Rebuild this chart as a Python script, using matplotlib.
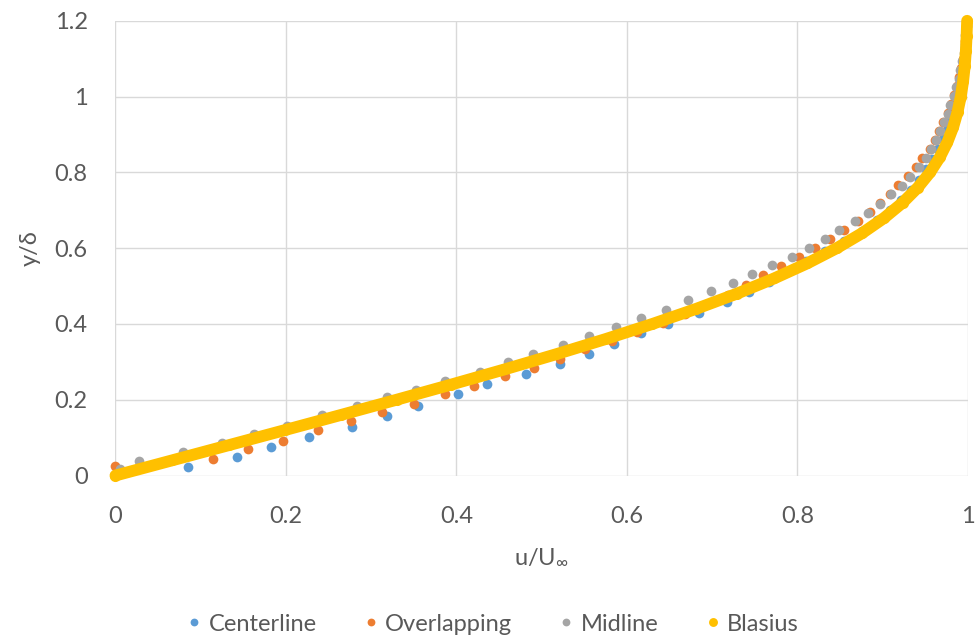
import matplotlib
matplotlib.use("Agg")
import matplotlib.pyplot as plt

plt.rcParams['font.family'] = ['Lato', 'DejaVu Sans']
plt.rcParams['mathtext.fontset'] = 'custom'
plt.rcParams['mathtext.rm'] = 'Lato'
plt.rcParams['mathtext.it'] = 'Lato'

# velocity profiles, u/U_inf against y/delta
center_u = [0.085, 0.142, 0.183, 0.227, 0.277, 0.319, 0.355, 0.402, 0.436, 0.482,
            0.522, 0.555, 0.585, 0.616, 0.648, 0.685, 0.717, 0.743, 0.766, 0.788,
            0.810, 0.832, 0.855, 0.876, 0.893, 0.908, 0.921, 0.933, 0.943, 0.951,
            0.958, 0.965, 0.971, 0.976, 0.980, 0.984, 0.987, 0.990, 0.992, 0.994,
            0.996, 0.997, 0.998, 0.999]
center_y = [0.022, 0.048, 0.075, 0.102, 0.129, 0.157, 0.183, 0.214, 0.241, 0.267,
            0.294, 0.321, 0.347, 0.375, 0.400, 0.428, 0.459, 0.485, 0.511, 0.538,
            0.565, 0.592, 0.619, 0.646, 0.673, 0.700, 0.727, 0.754, 0.781, 0.808,
            0.835, 0.862, 0.889, 0.916, 0.943, 0.970, 0.997, 1.024, 1.051, 1.078,
            1.105, 1.132, 1.159, 1.186]

overlap_u = [0.000, 0.114, 0.156, 0.196, 0.237, 0.276, 0.313, 0.350, 0.387, 0.420,
             0.457, 0.491, 0.521, 0.551, 0.582, 0.612, 0.642, 0.668, 0.694, 0.718,
             0.740, 0.760, 0.781, 0.802, 0.821, 0.838, 0.854, 0.871, 0.885, 0.897,
             0.908, 0.918, 0.930, 0.939, 0.946, 0.956, 0.961, 0.966, 0.971, 0.976,
             0.980, 0.984, 0.987, 0.990, 0.992, 0.994, 0.996, 0.997, 0.998]
overlap_y = [0.025, 0.044, 0.069, 0.092, 0.120, 0.145, 0.167, 0.190, 0.214, 0.237,
             0.262, 0.283, 0.307, 0.333, 0.356, 0.379, 0.403, 0.427, 0.452, 0.477,
             0.502, 0.529, 0.553, 0.577, 0.600, 0.624, 0.648, 0.672, 0.696, 0.720,
             0.744, 0.767, 0.791, 0.815, 0.838, 0.862, 0.885, 0.909, 0.933, 0.957,
             0.980, 1.004, 1.028, 1.052, 1.076, 1.100, 1.124, 1.148, 1.172]

mid_u = [0.005, 0.028, 0.079, 0.125, 0.162, 0.201, 0.242, 0.283, 0.318, 0.352,
         0.387, 0.428, 0.460, 0.490, 0.525, 0.556, 0.587, 0.617, 0.646, 0.671,
         0.699, 0.724, 0.747, 0.770, 0.793, 0.814, 0.832, 0.849, 0.867, 0.883,
         0.897, 0.910, 0.923, 0.932, 0.942, 0.951, 0.957, 0.962, 0.967, 0.972,
         0.976, 0.979, 0.983, 0.986, 0.989, 0.991, 0.993, 0.995, 0.996, 0.997,
         0.998]
mid_y = [0.016, 0.038, 0.063, 0.085, 0.109, 0.131, 0.160, 0.183, 0.206, 0.227,
         0.250, 0.274, 0.299, 0.322, 0.344, 0.368, 0.391, 0.415, 0.438, 0.463,
         0.487, 0.509, 0.532, 0.555, 0.577, 0.601, 0.624, 0.648, 0.672, 0.693,
         0.716, 0.743, 0.765, 0.788, 0.815, 0.839, 0.863, 0.885, 0.910, 0.932,
         0.955, 0.978, 1.001, 1.024, 1.047, 1.070, 1.093, 1.116, 1.139, 1.162,
         1.185]

# Blasius table (f' vs eta/5)
blasius_u = [0.0, 0.06641, 0.13277, 0.19894, 0.26471, 0.32979, 0.39378, 0.45627,
             0.51676, 0.57477, 0.62977, 0.68132, 0.72899, 0.77246, 0.81152, 0.84605,
             0.87609, 0.90177, 0.92333, 0.94112, 0.95552, 0.96696, 0.97587, 0.98269,
             0.98779, 0.99155, 0.99425, 0.99616, 0.99748, 0.99838, 0.99898]
blasius_y = [0.00, 0.04, 0.08, 0.12, 0.16, 0.20, 0.24, 0.28, 0.32, 0.36, 0.40,
             0.44, 0.48, 0.52, 0.56, 0.60, 0.64, 0.68, 0.72, 0.76, 0.80, 0.84,
             0.88, 0.92, 0.96, 1.00, 1.04, 1.08, 1.12, 1.16, 1.20]

names = ['Centerline', 'Overlapping', 'Midline', 'Blasius']
colors = ['#5B9BD5', '#ED7D31', '#A5A5A5', '#FFC000']
txt = '#595959'
fs = 17

fig = plt.figure(figsize=(9.76, 6.4), dpi=100)
ax = fig.add_axes([0.1183, 0.257, 0.8735, 0.7105])

ax.plot(center_u, center_y, 'o', ms=7, color=colors[0], mec='none', label=names[0], clip_on=False)
ax.plot(overlap_u, overlap_y, 'o', ms=7, color=colors[1], mec='none', label=names[1], clip_on=False)
ax.plot(mid_u, mid_y, 'o', ms=7, color=colors[2], mec='none', label=names[2], clip_on=False)
ax.plot(blasius_u, blasius_y, '-', lw=8.5, color=colors[3], solid_capstyle='round',
        solid_joinstyle='round', clip_on=False)
ax.plot(blasius_u, blasius_y, 'o', ms=8, color=colors[3], mec='none', label=names[3], clip_on=False)

ax.set_xlim(0, 1)
ax.set_ylim(0, 1.2)
ax.set_xticks([0, 0.2, 0.4, 0.6, 0.8, 1])
ax.set_xticklabels(['0', '0.2', '0.4', '0.6', '0.8', '1'])
ax.set_yticks([0, 0.2, 0.4, 0.6, 0.8, 1, 1.2])
ax.set_yticklabels(['0', '0.2', '0.4', '0.6', '0.8', '1', '1.2'])
ax.grid(True, color='#D9D9D9', lw=1)
ax.set_axisbelow(True)
for s in ax.spines.values():
    s.set_visible(False)
ax.tick_params(length=0, labelsize=fs, labelcolor=txt)
ax.tick_params(axis='y', pad=20)
ax.tick_params(axis='x', pad=22)

ax.set_xlabel(r'u/U$_{\infty}$', fontsize=fs, color=txt, labelpad=14)
ax.set_ylabel('y/δ', fontsize=fs, color=txt, labelpad=10)

leg = fig.legend(loc='lower center', bbox_to_anchor=(0.505, -0.025), ncol=4, frameon=False,
                 fontsize=fs, handlelength=0.6, handletextpad=0.3, columnspacing=2.0,
                 markerscale=0.8)
for t in leg.get_texts():
    t.set_color(txt)

fig.savefig('out.png', dpi=100)
